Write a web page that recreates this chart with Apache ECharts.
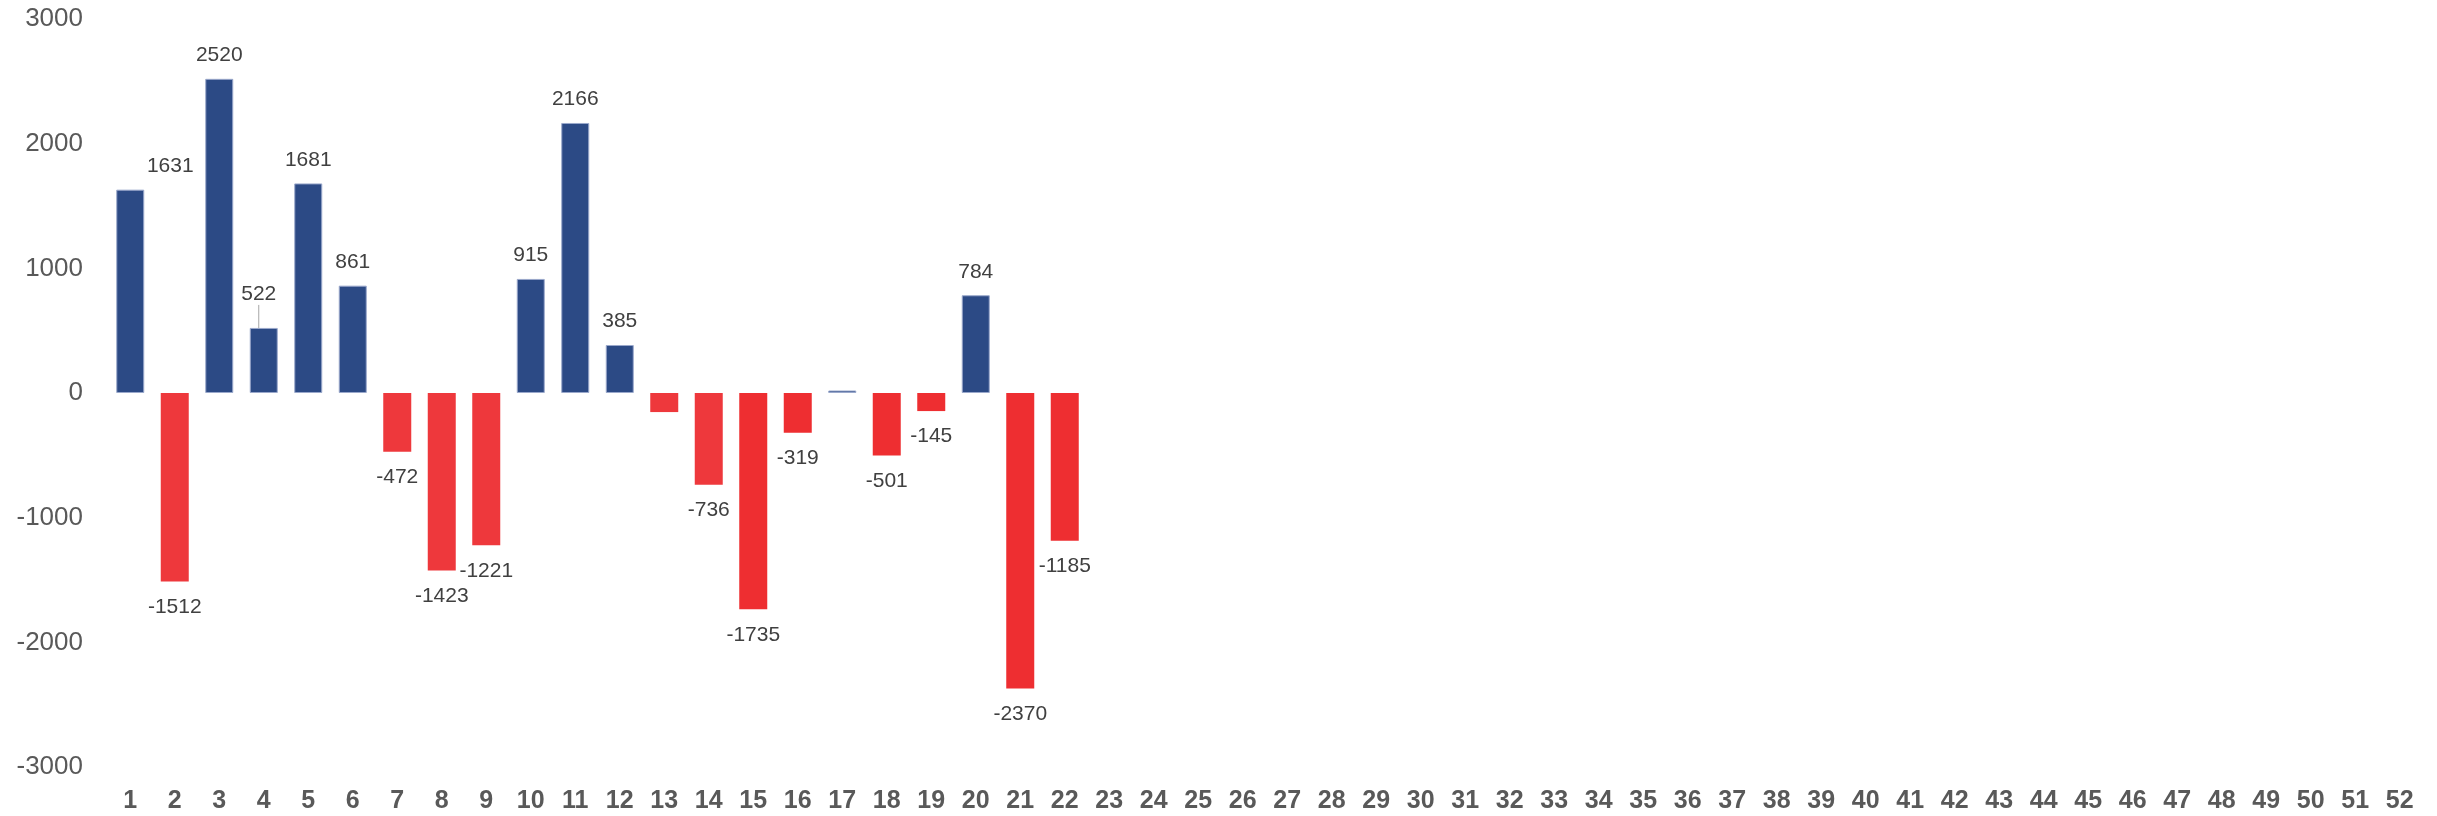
<!DOCTYPE html>
<html><head><meta charset="utf-8">
<script src="https://cdn.jsdelivr.net/npm/echarts@6/dist/echarts.min.js"></script>
<style>html,body{margin:0;padding:0;background:#fff}#c{width:2437px;height:816px}</style>
</head><body><div id="c"></div>
<script>
// Week categories (x tick labels)
const weeks = ['1','2','3','4','5','6','7','8','9','10','11','12','13','14','15','16','17','18','19','20',
  '21','22','23','24','25','26','27','28','29','30','31','32','33','34','35','36','37','38','39','40',
  '41','42','43','44','45','46','47','48','49','50','51','52'];
// Weekly values (weeks 1..22)
const values = [1631,-1512,2520,522,1681,861,-472,-1423,-1221,915,2166,385,-153,-736,-1735,-319,20,-501,-145,784,-2370,-1185];
// Weeks whose value label is not shown
const unlabeled = ['13','17'];
// Y axis range
const yMin = -3000, yMax = 3000, yStep = 1000;

const BLUE = '#2C4A85', RED_LIGHT = '#EE383C', RED_DEEP = '#EE2E31';
const lightRed = new Set([1,6,7,8,12,13]);

const data = values.map((v, i) => {
  const neg = v < 0;
  const item = {
    value: v,
    itemStyle: neg
      ? { color: lightRed.has(i) ? RED_LIGHT : RED_DEEP, borderWidth: 0 }
      : { color: BLUE, borderColor: '#9AA8CB', borderWidth: 1 },
    label: {
      show: !unlabeled.includes(weeks[i]),
      position: neg ? 'bottom' : 'top',
      distance: neg ? 15 : 13
    }
  };
  if (i === 3) item.labelLine = { show: true, lineStyle: { color: '#A6A6A6', width: 1 } };
  return item;
});

const chart = echarts.init(document.getElementById('c'), null, { renderer: 'canvas' });
chart.setOption({
  animation: false,
  backgroundColor: '#ffffff',
  grid: { left: 108, right: 15, top: 19, bottom: 49, containLabel: false },
  xAxis: {
    type: 'category',
    data: weeks,
    axisLine: { show: false },
    axisTick: { show: false },
    splitLine: { show: false },
    axisLabel: {
      interval: 0, margin: 22,
      color: '#595959', fontFamily: 'Liberation Sans, Arial, sans-serif',
      fontSize: 25, fontWeight: 'bold'
    }
  },
  yAxis: {
    type: 'value', min: yMin, max: yMax, interval: yStep,
    axisLine: { show: false }, axisTick: { show: false }, splitLine: { show: false },
    axisLabel: {
      margin: 25, color: '#595959', fontFamily: 'Liberation Sans, Arial, sans-serif',
      fontSize: 26, formatter: v => String(v)
    }
  },
  series: [{
    type: 'bar',
    data: data,
    barWidth: 28,
    label: {
      show: true, color: '#404040', fontSize: 21,
      fontFamily: 'Liberation Sans, Arial, sans-serif',
      formatter: p => String(p.value)
    },
    labelLine: { show: false },
    labelLayout: function (p) {
      if (p.dataIndex === 0) return { dx: 40 };
      if (p.dataIndex === 3) return { dx: -5, dy: -10 };
      return {};
    }
  }]
});
</script>
</body></html>
